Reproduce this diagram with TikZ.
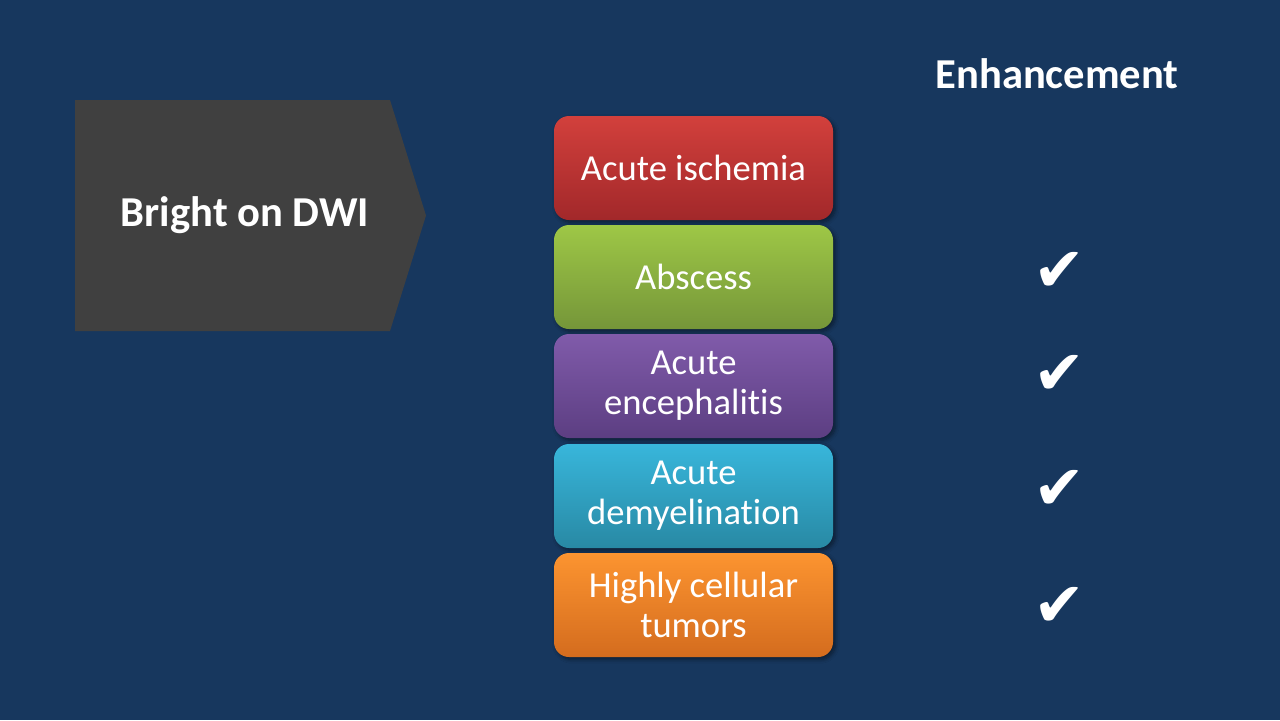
\documentclass[tikz,border=0pt]{standalone}
\usepackage{fontspec}
\setmainfont{Carlito}[Ligatures={NoCommon}]
\newfontfamily\symfont{DejaVu Sans}
\usetikzlibrary{shadows.blur}
\definecolor{bgblue}{HTML}{17375E}
\definecolor{arrowgray}{HTML}{404040}
\tikzset{
  cat/.style={rounded corners=7.5pt, minimum width=139.5pt, minimum height=52pt,
    inner sep=0pt, outer sep=0pt, text=white, align=center,
    font=\fontsize{18.3}{20}\selectfont,
    blur shadow={shadow xshift=1.2pt, shadow yshift=-1.2pt, shadow blur steps=6, shadow opacity=45}},
  headtext/.style={text=white, font=\fontsize{21.3}{24}\selectfont\bfseries, inner sep=0pt},
  tick/.style={text=white, font=\symfont\fontsize{31}{31}\selectfont, inner sep=0pt}
}
\begin{document}
\begin{tikzpicture}[x=0.5pt,y=-0.5pt]
\fill[bgblue] (0,0) rectangle (1280,720);
\useasboundingbox (0,0) rectangle (1280,720);
% pentagon arrow
\fill[arrowgray] (75,100) -- (390,100) -- (426,215.5) -- (390,331) -- (75,331) -- cycle;
\node[headtext] (dwi) at (245,215) {Bright on DWI};
\node[headtext] (enh) at (1057,74) {Enhancement};
% category boxes
\node[cat, top color={rgb,255:red,210;green,64;blue,60}, bottom color={rgb,255:red,162;green,40;blue,42}] (b1) at (693.5,168) {Acute ischemia};
\node[cat, top color={rgb,255:red,158;green,199;blue,70}, bottom color={rgb,255:red,117;green,150;blue,57}] (b2) at (693.5,277) {Abscess};
\node[cat, top color={rgb,255:red,128;green,91;blue,170}, bottom color={rgb,255:red,92;green,62;blue,130}] (b3) at (693.5,386) {Acute\\encephalitis};
\node[cat, top color={rgb,255:red,56;green,182;blue,219}, bottom color={rgb,255:red,40;green,137;blue,164}] (b4) at (693.5,496) {Acute\\demyelination};
\node[cat, top color={rgb,255:red,252;green,148;blue,48}, bottom color={rgb,255:red,212;green,108;blue,30}] (b5) at (693.5,605) {Highly cellular\\tumors};
% check marks
\node[tick] (c2) at (1059,272) {✔};
\node[tick] (c3) at (1059,375) {✔};
\node[tick] (c4) at (1059,490) {✔};
\node[tick] (c5) at (1059,607) {✔};
\end{tikzpicture}
\end{document}
